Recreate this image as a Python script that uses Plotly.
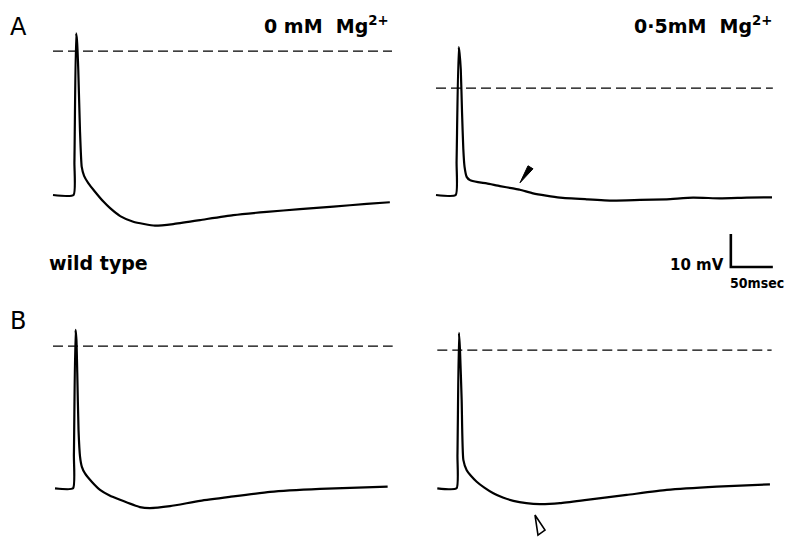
import plotly.graph_objects as go

W, H = 797, 537

# ---------------- data (time in ms, membrane potential in mV relative to rest) ----------------
a_left_t = [0, 24.5, 25.5, 27.5, 28.5, 30.1, 32.1, 34.2, 37.0, 42.0, 50.0, 60.0, 68.0, 80.0,
            95.6, 121.4, 143.2, 175, 214.6, 254.4, 294, 333.7, 373.4, 401]
a_left_v = [0, 0, 10, 49, 47, 37.9, 19.7, 8.5, 5.8, 3.6, 1.0, -2.0, -4.0, -6.4,
            -8.1, -9.3, -8.8, -7.6, -6.1, -5.1, -4.3, -3.5, -2.7, -2.2]

a_right_t = [0, 23.5, 24.5, 27, 28, 29.5, 31, 32.5, 34, 36.5, 40.5, 50, 60.4, 76, 91.7, 100,
             115.5, 131, 147.6, 179.4, 210.7, 242.9, 274.6, 306, 338, 370, 400]
a_right_v = [0, 0, 10, 44.8, 43, 38, 25, 14, 8.5, 5.5, 4.5, 3.9, 3.5, 2.7, 2.0, 1.6,
             0.5, -0.2, -0.8, -1.3, -1.7, -1.5, -1.3, -0.8, -1.0, -0.8, -0.7]

b_left_t = [0, 21.5, 22.5, 24.4, 25.5, 26.5, 28, 29.8, 32, 35.7, 44, 53.6, 65, 77.4, 101,
            113, 137, 172.6, 208, 256, 315.5, 396]
b_left_v = [0, 0, 10, 48, 45, 35, 17.7, 9.6, 6.5, 4.5, 1.9, -0.5, -2.2, -3.5, -5.7,
            -6.0, -5.4, -3.8, -2.6, -1.1, -0.2, 0.5]

b_right_t = [0, 22.9, 24, 25.8, 27, 29, 31, 35, 40, 46.9, 56, 66.7, 78, 90.5, 106, 122,
             146, 177.9, 225.5, 273, 332.6, 396]
b_right_v = [0, 0, 10, 47.1, 42, 26.8, 8.6, 5.5, 3.8, 2.0, 0.2, -1.5, -2.8, -3.8, -4.5, -4.8,
             -4.5, -3.5, -2.0, -0.5, 0.5, 1.2]

# dashed reference levels (mV) and their time spans (ms)
ref_levels = [43.6, 32.4, 43.1, 41.9]
ref_start = [0, 0, -2.4, 0]
ref_end = [403.6, 401, 402, 398]

# scale bar
scale_mv = 10
scale_ms = 50
scale_t0 = 351
scale_v0 = -21.8

# arrowhead markers (t, V)
filled_arrow = (100, 3.7)
open_arrow = (116.3, -8.1)

panel_titles = ["0&nbsp;mM&nbsp; Mg<sup>2+</sup>", "0·5mM&nbsp; Mg<sup>2+</sup>"]
row_labels = ["A", "B"]
genotype = "wild type"
scale_labels = ["10 mV", "50msec"]

# ---------------- layout geometry ----------------
SX = 0.84   # px per ms
SY = 3.3    # px per mV
# (origin px x, origin px y, box left, right, top, bottom)
panels = [
    (53, 195, 40, 405, 10, 240),
    (436, 195, 420, 790, 10, 280),
    (55, 488.3, 40, 405, 300, 537),
    (437.3, 488.3, 420, 790, 300, 537),
]

traces = [(a_left_t, a_left_v), (a_right_t, a_right_v), (b_left_t, b_left_v), (b_right_t, b_right_v)]

fig = go.Figure()
for i, ((ox, oy, l, r, t, b), (tt, vv)) in enumerate(zip(panels, traces)):
    n = "" if i == 0 else str(i + 1)
    xa, ya = "x" + n, "y" + n
    fig.add_trace(go.Scatter(x=[ref_start[i], ref_end[i]], y=[ref_levels[i]] * 2, mode="lines",
                             line=dict(color="black", width=1.3, dash="10px,5px"),
                             xaxis=xa, yaxis=ya, hoverinfo="skip"))
    fig.add_trace(go.Scatter(x=tt, y=vv, mode="lines",
                             line=dict(color="black", width=2.2, shape="spline", smoothing=0.5),
                             xaxis=xa, yaxis=ya, hoverinfo="skip"))
    axx = dict(domain=[l / W, r / W], range=[(l - ox) / SX, (r - ox) / SX], visible=False,
               anchor=ya, fixedrange=True)
    axy = dict(domain=[1 - b / H, 1 - t / H], range=[(oy - b) / SY, (oy - t) / SY], visible=False,
               anchor=xa, fixedrange=True)
    fig.layout["xaxis" + n] = axx
    fig.layout["yaxis" + n] = axy

# scale bar in panel A-right
fig.add_trace(go.Scatter(x=[scale_t0, scale_t0, scale_t0 + scale_ms],
                         y=[scale_v0 + scale_mv, scale_v0, scale_v0],
                         mode="lines", line=dict(color="black", width=2.6),
                         xaxis="x2", yaxis="y2", hoverinfo="skip"))

shapes = [
    dict(type="path", xref="x2", yref="y2", xsizemode="pixel", ysizemode="pixel",
         xanchor=filled_arrow[0], yanchor=filled_arrow[1],
         path="M0,0 L8,17 L13,14 Z", fillcolor="black", line=dict(color="black", width=1)),
    dict(type="path", xref="x4", yref="y4", xsizemode="pixel", ysizemode="pixel",
         xanchor=open_arrow[0], yanchor=open_arrow[1],
         path="M0,0 L3,-20 L10,-15 Z", fillcolor="white", line=dict(color="black", width=1.6)),
]

FONT = "DejaVu Sans"
def ann(text, px, py, size, xanchor="left", weight="bold", family=FONT):
    return dict(text=text, x=px / W, y=1 - py / H, xref="paper", yref="paper",
                xanchor=xanchor, yanchor="middle", showarrow=False,
                font=dict(family=family, size=size, color="black", weight=weight))

annotations = [
    ann(row_labels[0], 8, 27, 24, weight="normal"),
    ann(row_labels[1], 8, 321, 24, weight="normal"),
    ann(panel_titles[0], 391, 25, 19, xanchor="right"),
    ann(panel_titles[1], 775, 25, 19, xanchor="right"),
    ann(genotype, 47, 263, 19),
    ann(scale_labels[0], 668, 265, 15),
    ann(scale_labels[1], 728, 283, 14, family="DejaVu Sans Condensed, DejaVu Sans"),
]

fig.update_layout(width=W, height=H, margin=dict(l=0, r=0, t=0, b=0),
                  paper_bgcolor="white", plot_bgcolor="white", showlegend=False,
                  shapes=shapes, annotations=annotations)

fig.write_html("out.html", config={"displayModeBar": False, "staticPlot": True},
               post_script="document.body.style.margin='0px';document.body.style.overflow='hidden';")
